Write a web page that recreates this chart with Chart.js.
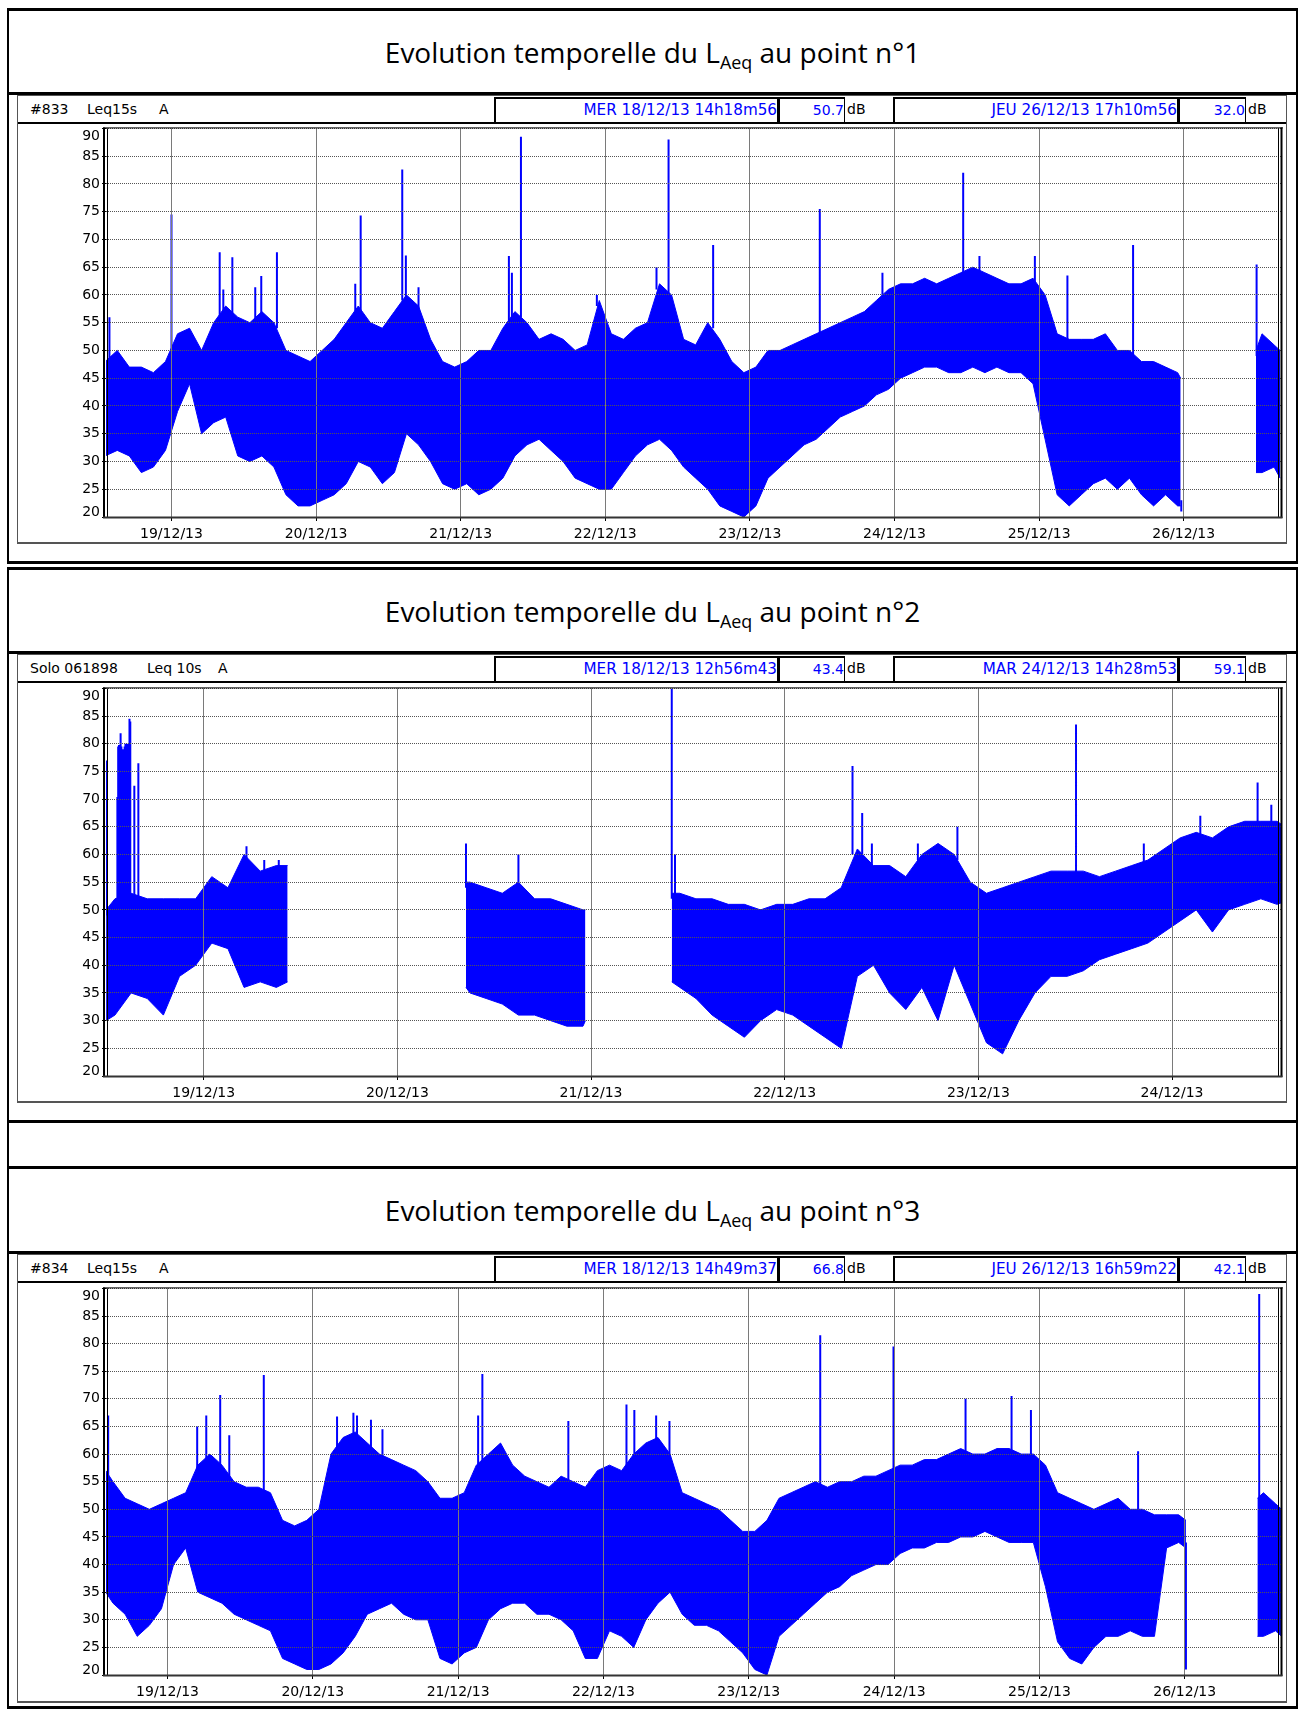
<!DOCTYPE html>
<html><head><meta charset="utf-8">
<script src="https://cdn.jsdelivr.net/npm/chart.js@4.4.1/dist/chart.umd.min.js"></script>
<style>
html,body{margin:0;padding:0;background:#fff;}
body{position:relative;width:1303px;height:1712px;overflow:hidden;font-family:'DejaVu Sans',sans-serif;}
.a{position:absolute;box-sizing:border-box;}
.box{border-style:solid;border-color:#000;border-width:3px 2px 3px 2px;}
.hl{position:absolute;height:3px;background:#000;left:7px;width:1291px;}
.title{position:absolute;left:9px;width:1287px;text-align:center;font-family:'Open Sans',sans-serif;font-size:28px;color:#000;line-height:40px;height:40px;white-space:nowrap;}
.title sub{font-size:0.64em;vertical-align:-0.32em;line-height:0;}
.frame{position:absolute;box-sizing:border-box;left:17px;width:1270px;border:1px solid #555;border-bottom:2px solid #555;}
.hdr{position:absolute;box-sizing:border-box;left:18px;width:1268px;height:28px;border-bottom:2px solid #000;}
.t{position:absolute;font-size:14px;color:#000;white-space:nowrap;line-height:16px;}
.sb{position:absolute;box-sizing:border-box;height:26px;border-style:solid;border-color:#000;border-width:2px 1px 0 2px;color:#00f;font-size:14px;text-align:right;line-height:22px;white-space:nowrap;overflow:visible;}
.sb.d{font-size:15.2px;}
canvas{position:absolute;}
</style></head><body>

<div class="a box" style="left:7px;top:8px;width:1291px;height:556px;"></div>
<div class="title" style="top:32px;">Evolution temporelle du L<sub>Aeq</sub> au point n°1</div>
<div class="hl" style="top:92px;"></div>
<div class="frame" style="top:95px;height:449px;"></div>
<div class="hdr" style="top:96px;"></div>
<div class="t" style="left:30px;top:101px;">#833</div>
<div class="t" style="left:87px;top:101px;">Leq15s</div>
<div class="t" style="left:159px;top:101px;">A</div>
<div class="sb d" style="left:494px;top:97px;width:284px;">MER 18/12/13 14h18m56</div>
<div class="sb" style="left:778px;top:97px;width:67px;">50.7</div>
<div class="t" style="left:847px;top:101px;">dB</div>
<div class="sb d" style="left:893px;top:97px;width:285px;">JEU 26/12/13 17h10m56</div>
<div class="sb" style="left:1178px;top:97px;width:68px;">32.0</div>
<div class="t" style="left:1248px;top:101px;">dB</div>
<canvas id="c1" width="1264" height="423" style="left:20px;top:118px;"></canvas>

<div class="a box" style="left:7px;top:567px;width:1291px;height:1142px;"></div>
<div class="title" style="top:591px;">Evolution temporelle du L<sub>Aeq</sub> au point n°2</div>
<div class="hl" style="top:651px;"></div>
<div class="frame" style="top:654px;height:449px;"></div>
<div class="hdr" style="top:655px;"></div>
<div class="t" style="left:30px;top:660px;">Solo 061898</div>
<div class="t" style="left:147px;top:660px;">Leq 10s</div>
<div class="t" style="left:218px;top:660px;">A</div>
<div class="sb d" style="left:494px;top:656px;width:284px;">MER 18/12/13 12h56m43</div>
<div class="sb" style="left:778px;top:656px;width:67px;">43.4</div>
<div class="t" style="left:847px;top:660px;">dB</div>
<div class="sb d" style="left:893px;top:656px;width:285px;">MAR 24/12/13 14h28m53</div>
<div class="sb" style="left:1178px;top:656px;width:68px;">59.1</div>
<div class="t" style="left:1248px;top:660px;">dB</div>
<canvas id="c2" width="1264" height="422" style="left:20px;top:678px;"></canvas>
<div class="hl" style="top:1120px;"></div>
<div class="hl" style="top:1166px;"></div>

<div class="title" style="top:1190px;">Evolution temporelle du L<sub>Aeq</sub> au point n°3</div>
<div class="hl" style="top:1251px;"></div>
<div class="frame" style="top:1254px;height:449px;"></div>
<div class="hdr" style="top:1255px;"></div>
<div class="t" style="left:30px;top:1260px;">#834</div>
<div class="t" style="left:87px;top:1260px;">Leq15s</div>
<div class="t" style="left:159px;top:1260px;">A</div>
<div class="sb d" style="left:494px;top:1256px;width:284px;">MER 18/12/13 14h49m37</div>
<div class="sb" style="left:778px;top:1256px;width:67px;">66.8</div>
<div class="t" style="left:847px;top:1260px;">dB</div>
<div class="sb d" style="left:893px;top:1256px;width:285px;">JEU 26/12/13 16h59m22</div>
<div class="sb" style="left:1178px;top:1256px;width:68px;">42.1</div>
<div class="t" style="left:1248px;top:1260px;">dB</div>
<canvas id="c3" width="1264" height="421" style="left:20px;top:1278px;"></canvas>

<script>
// ---- shared axis values ----
const yTicks = [20,25,30,35,40,45,50,55,60,65,70,75,80,85,90];
const dayTicks1 = [24,48,72,96,120,144,168,192];
const dayLabels1 = ['19/12/13','20/12/13','21/12/13','22/12/13','23/12/13','24/12/13','25/12/13','26/12/13'];
const dayTicks2 = [24,48,72,96,120,144];
const dayLabels2 = ['19/12/13','20/12/13','21/12/13','22/12/13','23/12/13','24/12/13'];

// ---- point 1 (hours from 18/12/13 00:00; upper / lower envelope of the 15 s Leq, dB) ----
const hours1 = [13,15,17,19,21,23,25,27,29,31,33,35,37,39,41,43,45,47,49,51,53,55,57,59,61,63,65,67,69,71,73,75,77,79,81,83,85,87,89,91,93,95,97,99,101,103,105,107,109,111,113,115,117,119,121,123,125,127,129,131,133,135,137,139,141,143,145,147,149,151,153,155,157,159,161,163,165,167,169,171,173,175,177,179,181,183,185,187,189,191,191.5,197,204,205,207,208];
const upper1 = [48,50,47,47,46,48,53,54,50,55,58,56,55,57,55,50,49,48,50,52,55,58,55,54,57,60,58,52,48,47,48,50,50,54,57,55,52,53,52,50,51,59,53,52,54,55,62,60,52,51,55,52,48,46,47,50,50,51,52,53,54,55,56,57,59,61,62,62,63,62,63,64,65,64,63,62,62,63,60,53,52,52,52,53,50,50,48,48,47,46,45,null,50,53,51,50];
const lower1 = [31,32,31,28,29,32,39,44,35,37,38,31,30,31,29,24,22,22,23,24,26,30,29,26,28,35,33,30,26,25,26,24,25,27,31,33,34,32,30,27,26,25,25,28,31,33,34,32,29,27,25,22,21,20,22,27,29,31,33,34,36,38,39,40,42,43,45,46,47,47,46,46,47,46,47,46,46,44,34,24,22,24,26,27,25,27,24,22,24,22,22,null,28,28,29,27];
const spikeHours1 = [13.7,24.0,32.0,32.6,34.1,37.9,38.9,41.5,54.5,55.4,62.3,62.9,65.0,80.0,80.5,82.0,94.6,104.5,106.5,113.9,131.6,142.0,155.4,158.1,167.3,172.7,183.6,204.1];
const spikeTops1  = [56,74.5,67.7,61,66.8,61.4,63.4,67.7,62,74.3,82.6,67.1,61.4,67,64,88.5,60,65,88,69,75.5,64,82,67,67,63.5,69,65.5];
const dipHours1 = [191.6];
const dipBottoms1 = [21];

// ---- point 2 (10 s Leq) ----
const hours2 = [11.9,13,15,17,19,21,23,25,27,29,31,33,34.4,45,56.5,57,59,61,63,65,67,69,71,71.3,77,82,83,85,87,89,91,93,95,97,99,101,103,105,107,109,111,113,115,117,119,121,123,125,127,129,131,133,135,137,139,141,143,145,147,149,151,153,155,157,159];
const upper2 = [50,52,53,52,52,52,52,56,54,60,57,58,58,null,55,55,54,53,55,52,52,51,50,50,null,53,53,52,52,51,51,50,51,51,52,52,54,61,58,58,56,60,62,60,55,53,54,55,56,57,57,57,56,57,58,59,61,63,64,63,65,66,66,66,64];
const lower2 = [30,31,35,34,31,38,40,44,43,36,37,36,37,null,36,35,34,33,31,31,30,29,29,30,null,37,36,34,31,29,27,30,32,31,29,27,25,38,40,35,32,36,30,40,33,26,24,30,35,38,38,39,41,42,43,44,46,48,50,46,50,51,52,51,52];
const spikeHours2 = [12.0,13.3,13.4,13.5,13.6,13.7,13.8,13.9,14.0,14.1,14.2,14.3,14.4,14.5,14.6,14.7,14.8,14.9,15.4,15.9,29.3,31.5,33.3,56.5,63.0,82.0,82.4,104.4,105.6,106.8,112.5,117.4,132.1,140.5,147.5,154.6,156.3];
const spikeTops2  = [77,70.4,79.5,79.8,79.8,81.9,79.5,79,79,79,79.5,80,79.5,80,80,80,84.5,84,72.4,76.5,61.5,59,59,62,60,90,60,76,67.5,62,62,65,83.5,62,67,73,69];
const dipHours2 = [];
const dipBottoms2 = [];

// ---- point 3 (15 s Leq) ----
const hours3 = [13.8,15,17,19,21,23,25,27,29,31,33,35,37,39,41,43,45,47,49,51,53,55,57,59,61,63,65,67,69,71,73,75,77,79,81,83,85,87,89,91,93,95,97,99,101,103,105,107,109,111,113,115,117,119,121,123,125,127,129,131,133,135,137,139,141,143,145,147,149,151,153,155,157,159,161,163,165,167,169,171,173,175,177,179,181,183,185,187,189,191,192.2,197,204,205,207,208];
const upper3 = [57,55,52,51,50,51,52,53,58,60,58,55,54,54,53,48,47,48,50,60,63,64,62,60,59,58,57,55,52,52,53,58,60,62,58,56,55,54,56,55,54,57,58,57,60,62,63,60,53,52,51,50,48,46,46,48,52,53,54,55,54,55,55,56,56,57,58,58,59,59,60,61,60,60,61,61,60,60,58,53,52,51,50,51,52,50,50,49,49,49,48,null,52,53,51,50];
const lower3 = [35,33,31,27,29,32,40,43,35,34,33,31,30,29,28,23,22,21,21,22,24,27,31,32,33,31,30,30,23,22,24,25,30,32,33,33,31,31,30,28,23,23,28,27,25,30,33,35,31,29,29,28,26,24,21,20,27,29,31,33,35,36,38,39,40,40,42,43,43,44,44,45,45,46,45,44,44,44,36,26,23,22,25,27,27,28,27,27,43,44,43,null,27,27,28,27];
const spikeHours3 = [14.2,28.9,30.4,32.7,34.2,39.9,52.0,54.7,55.3,57.6,59.5,75.3,76.0,90.2,99.8,101.1,104.7,106.9,131.8,143.9,155.8,163.4,166.6,184.3,204.3];
const spikeTops3  = [67,65,67,70.7,63.4,74.3,66.8,67.5,67,66.2,64.5,67,74.5,66,69,68,67,66,81.5,79.5,70,70.5,68,60.5,89];
const dipHours3 = [192.2];
const dipBottoms3 = [21];

const BLUE = '#0000ff';
const TICK_FONT = { family: 'DejaVu Sans', size: 14 };

const framePlugin = {
  id: 'frame',
  afterDraw(chart) {
    const ctx = chart.ctx, a = chart.chartArea, ys = chart.scales.y;
    ctx.save();
    const seg = (x1, y1, x2, y2, w, c) => { ctx.lineWidth = w; ctx.strokeStyle = c; ctx.beginPath(); ctx.moveTo(x1, y1); ctx.lineTo(x2, y2); ctx.stroke(); };
    seg(a.left - 3, a.top - 0.5, a.right + 2, a.top - 0.5, 1, '#000');
    seg(a.left - 2, a.top - 1, a.left - 2, a.bottom + 1, 2, '#000');
    seg(a.left + 1.5, a.top, a.left + 1.5, a.bottom, 1, '#000');
    seg(a.right - 2.5, a.top, a.right - 2.5, a.bottom, 1, '#000');
    seg(a.right + 0.5, a.top - 1, a.right + 0.5, a.bottom + 1, 2, '#000');
    seg(a.left - 3, a.bottom + 0.5, a.right + 1.5, a.bottom + 0.5, 2, '#333');
    // end labels of the dB axis sit inside the plot height, as in the source software
    ctx.font = TICK_FONT.size + 'px "' + TICK_FONT.family + '"';
    ctx.fillStyle = '#000'; ctx.textAlign = 'right'; ctx.textBaseline = 'middle';
    const xr = a.left - 6;
    const top = yTicks[yTicks.length - 1], bot = yTicks[0];
    ctx.fillText(String(top), xr, ys.getPixelForValue(top) + 8);
    ctx.fillText(String(bot), xr, ys.getPixelForValue(bot) - 4.5);
    ctx.restore();
  }
};

function nearestVal(h, hours, arr) {
  let best = null, bd = Infinity;
  for (let i = 0; i < hours.length; i++) {
    if (arr[i] != null && Math.abs(hours[i] - h) < bd) { bd = Math.abs(hours[i] - h); best = arr[i]; }
  }
  return best;
}

function makePanel(id, xMin, xMax, hours, upper, lower, spikeH, spikeT, dipH, dipB, ticks, labels) {
  const up = hours.map((h, i) => ({ x: h, y: upper[i] }));
  const lo = hours.map((h, i) => ({ x: h, y: lower[i] }));
  const lines = [];
  spikeH.forEach((h, i) => { lines.push({ x: h, y: nearestVal(h, hours, upper) - 1 }, { x: h, y: spikeT[i] }, { x: h, y: null }); });
  dipH.forEach((h, i) => { lines.push({ x: h, y: nearestVal(h, hours, lower) + 1 }, { x: h, y: dipB[i] }, { x: h, y: null }); });
  const cv = document.getElementById(id);
  const xAxisH = 24;
  return new Chart(cv, {
    type: 'line',
    data: { datasets: [
      { data: lines, borderColor: BLUE, borderWidth: 2, pointRadius: 0, spanGaps: false, fill: false, tension: 0 },
      { data: up, borderColor: BLUE, backgroundColor: BLUE, borderWidth: 1, pointRadius: 0, spanGaps: false, fill: '+1', tension: 0 },
      { data: lo, borderColor: BLUE, borderWidth: 1, pointRadius: 0, spanGaps: false, fill: false, tension: 0 }
    ]},
    options: {
      responsive: false, animation: false, events: [],
      layout: { padding: { top: 10, right: 3, left: 0, bottom: 0 } },
      plugins: { legend: { display: false }, tooltip: { enabled: false } },
      scales: {
        x: {
          type: 'linear', min: xMin, max: xMax, offset: false, z: 1,
          afterBuildTicks: s => { s.ticks = ticks.map(v => ({ value: v })); },
          afterFit: s => { s.height = xAxisH; },
          ticks: { autoSkip: false, maxRotation: 0, padding: 5, color: '#000', font: TICK_FONT, callback: (v, i) => labels[i] },
          grid: { z: 1, color: '#7a7a7a', lineWidth: 1, drawTicks: true, tickLength: 4, tickColor: '#000', offset: false },
          border: { display: false }
        },
        y: {
          type: 'linear', min: 20, max: 90, z: 1,
          afterBuildTicks: s => { s.ticks = yTicks.map(v => ({ value: v })); },
          afterFit: s => { s.width = 86; },
          ticks: { autoSkip: false, padding: 2, color: '#000', font: TICK_FONT,
                   callback: (v) => (v === yTicks[0] || v === yTicks[yTicks.length - 1]) ? '' : String(v) },
          grid: { z: 1, color: '#555', lineWidth: 1, drawTicks: true, tickLength: 4, tickColor: '#000' },
          border: { display: false, dash: [1, 1] }
        }
      }
    },
    plugins: [framePlugin]
  });
}

makePanel('c1', 13.13, 208.15, hours1, upper1, lower1, spikeHours1, spikeTops1, dipHours1, dipBottoms1, dayTicks1, dayLabels1);
makePanel('c2', 11.89, 157.5, hours2, upper2, lower2, spikeHours2, spikeTops2, dipHours2, dipBottoms2, dayTicks2, dayLabels2);
makePanel('c3', 13.84, 207.9, hours3, upper3, lower3, spikeHours3, spikeTops3, dipHours3, dipBottoms3, dayTicks1, dayLabels1);
</script>
</body></html>
